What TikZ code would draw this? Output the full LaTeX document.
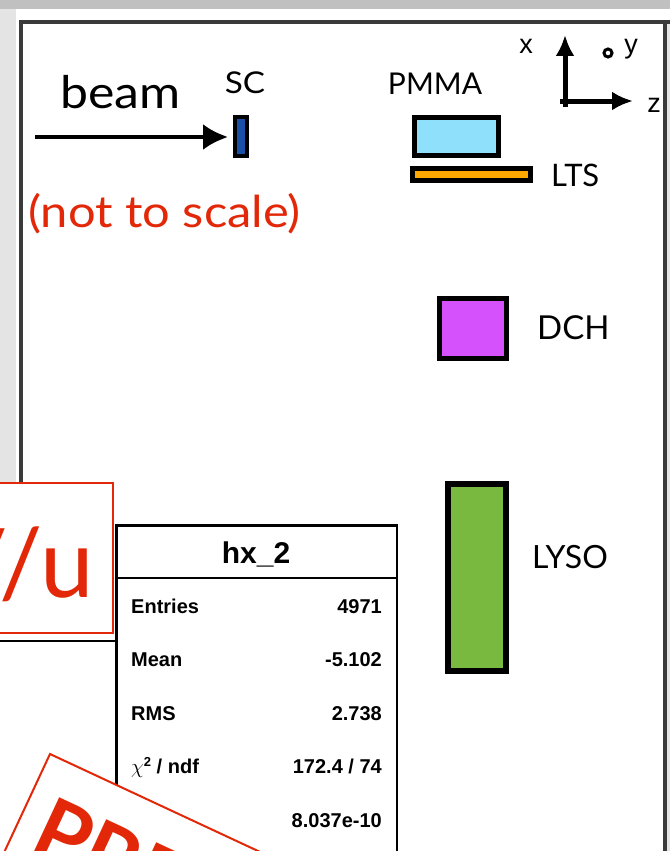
\documentclass[tikz,border=0pt]{standalone}
\usepackage{fontspec}
\setmainfont{Lato}
\newfontfamily\widefont{Lato}[FakeStretch=1.11]
\newfontfamily\statfont{Liberation Sans}
\usetikzlibrary{arrows.meta}
\definecolor{scblue}{RGB}{26,79,166}
\definecolor{pmmablue}{RGB}{143,224,251}
\definecolor{ltsorange}{RGB}{255,168,0}
\definecolor{dchpurple}{RGB}{213,81,252}
\definecolor{lysogreen}{RGB}{121,185,64}
\definecolor{stampred}{RGB}{226,40,8}
\definecolor{edgegray}{RGB}{192,192,192}
\definecolor{sidegray}{RGB}{228,228,228}
\definecolor{framegray}{RGB}{58,58,58}
\tikzset{
  det/.style={draw=black, inner sep=0pt, outer sep=0pt},
  lbl/.style={font=\fontsize{31}{36}\selectfont, anchor=base west, inner sep=0pt},
  stat/.style={font=\statfont\bfseries\fontsize{20}{24}\selectfont, inner sep=0pt},
  statlbl/.style={stat, anchor=base west},
  statval/.style={stat, anchor=base east},
  axlbl/.style={font=\statfont\fontsize{27}{30}\selectfont, anchor=base, inner sep=0pt},
  axarrow/.style={line width=5pt, -{Latex[length=21pt,width=19pt]}},
}
\begin{document}
\begin{tikzpicture}[x=1pt,y=-1pt]
\useasboundingbox (0,0) rectangle (670,851);
\begin{scope}
\clip (0,0) rectangle (670,851);
% background / screenshot frame
\fill[white] (0,0) rectangle (670,851);
\fill[edgegray] (0,0) rectangle (670,9);
\fill[sidegray] (0,9) rectangle (16,483);
\fill[sidegray] (667,20) rectangle (670,851);
\draw[framegray, line width=4pt] (20.5,483) -- (20.5,22) -- (670,22);
\draw[framegray, line width=3.5pt] (665,22) -- (665,851);

% beam and scintillator
\node[det, line width=4pt, fill=scblue, minimum width=12pt, minimum height=39pt] (sc) at (241,136.5) {};
\coordinate (beamstart) at (35,137);
\draw[line width=4pt, -{Latex[length=25pt,width=26pt]}, shorten >=7pt] (beamstart) -- (beamstart -| sc.west);
\node[font=\widefont\fontsize{45}{50}\selectfont, anchor=base west, inner sep=0pt] (beam) at (60,108) {beam};
\node[font=\widefont\fontsize{30}{34}\selectfont, anchor=base, inner sep=0pt] (sclbl) at (245,93) {SC};
\node[font=\widefont\fontsize{44}{50}\selectfont, anchor=base west, inner sep=0pt, text=stampred] (nts) at (28,227) {(not to scale)};

% PMMA and LTS
\node[det, line width=5pt, fill=pmmablue, minimum width=84pt, minimum height=38pt] (pmma) at (456.5,136.5) {};
\node[font=\fontsize{30}{34}\selectfont, anchor=base, inner sep=0pt] (pmmalbl) at (435,95) {PMMA};
\node[det, line width=5pt, fill=ltsorange, minimum width=118pt, minimum height=12pt] (lts) at (471.5,174.5) {};
\node[lbl] (ltslbl) at (551,186) {LTS};

% DCH
\node[det, line width=5pt, fill=dchpurple, minimum width=67pt, minimum height=60pt] (dch) at (473,328.5) {};
\node[lbl, font=\fontsize{33}{38}\selectfont] (dchlbl) at (537,339) {DCH};

% LYSO
\node[det, line width=6pt, fill=lysogreen, minimum width=58pt, minimum height=187pt] (lyso) at (477,577.5) {};
\node[lbl, font=\fontsize{32}{37}\selectfont] (lysolbl) at (532,568) {LYSO};

% axes
\coordinate (origin) at (565,101);
\coordinate (xtip) at (565,35);
\coordinate (ztip) at (633,101);
\coordinate (obot) at (565,107);
\draw[axarrow] (obot) -- (xtip);
\draw[axarrow] (560,101) -- (ztip);
\node[draw=black, line width=3pt, circle, minimum size=8pt, inner sep=0pt] (ydot) at (608,53) {};
\node[axlbl] (xl) at (526,53) {x};
\node[axlbl] (yl) at (631,53) {y};
\node[axlbl] (zl) at (654,112) {z};

% red "V/u" box
\draw[stampred, line width=2pt, fill=white] (-5,483) rectangle (113,633);
\node[font=\fontsize{96}{100}\selectfont, text=stampred, anchor=base east, inner sep=0pt] (unit) at (94,597) {V/u};

% box behind stats
\draw[black, line width=2.5pt] (0,641) -- (117,641);

% stats box
\draw[black, line width=2.5pt, fill=white] (116.5,525.5) rectangle (397,870);
\draw[black, line width=2.5pt] (116.5,578) -- (397,578);
\node[stat, font=\statfont\bfseries\fontsize{30}{34}\selectfont, anchor=base] (title) at (256,563) {hx\_2};
\node[statlbl] (l1) at (131,613) {Entries};
\node[statval] (v1) at (382,613) {4971};
\node[statlbl] (l2) at (131,666) {Mean};
\node[statval] (v2) at (382,666) {-5.102};
\node[statlbl] (l3) at (131,720) {RMS};
\node[statval] (v3) at (382,720) {2.738};
\node[statlbl] (l4) at (131,773) {{\mdseries$\chi$}\raisebox{7pt}{\fontsize{13}{14}\selectfont 2} / ndf};
\node[statval] (v4) at (382,773) {172.4 / 74};
\node[statval] (v5) at (382,827) {8.037e-10};

% PRE stamp
\begin{scope}[shift={(50,754)}, rotate=-25]
\draw[stampred, line width=2pt, fill=white] (0,0) rectangle (500,200);
\node[transform shape, font=\bfseries\fontsize{85}{90}\selectfont, text=stampred, anchor=base west, inner sep=0pt] (pre) at (20,97) {PRE};
\end{scope}
\end{scope}
\end{tikzpicture}
\end{document}
